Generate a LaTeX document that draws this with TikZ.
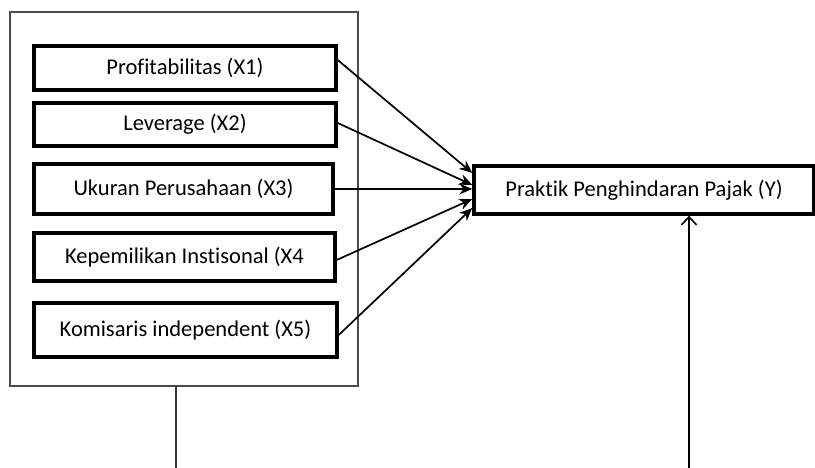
\documentclass[tikz,border=0pt]{standalone}
\usepackage{fontspec}
\setmainfont{Carlito}[Ligatures=NoCommon]
\usetikzlibrary{arrows.meta,calc}
\begin{document}
\begin{tikzpicture}[x=1pt,y=-1pt,
  varbox/.style={draw=black,line width=3.4pt,fill=white,inner sep=0pt,font=\fontsize{22.5}{26}\selectfont},
  link/.style={draw=black,line width=1.7pt,-{Stealth[length=13pt,width=11pt]}},
  frame/.style={draw=black!70,line width=1.1pt}]
\useasboundingbox (0,0) rectangle (815,468);
\node[frame,minimum width=348pt,minimum height=374pt,inner sep=0pt] (outer) at (184,199) {};
\node[varbox,minimum width=302pt,minimum height=44pt] (b1) at (185,68) {Profitabilitas (X1)};
\node[varbox,minimum width=302pt,minimum height=43pt] (b2) at (185,124.5) {Leverage (X2)};
\node[varbox,minimum width=299pt,minimum height=50pt] (b3) at (183.5,189) {\raisebox{3pt}{Ukuran Perusahaan (X3)}};
\node[varbox,minimum width=301pt,minimum height=48pt] (b4) at (184.5,257) {\raisebox{2pt}{Kepemilikan Instisonal (X4}};
\node[varbox,minimum width=303pt,minimum height=54pt] (b5) at (185.5,330) {\raisebox{3pt}{Komisaris independent (X5)}};
\node[varbox,minimum width=340pt,minimum height=48pt] (y) at (644,190) {\raisebox{2pt}{Praktik Penghindaran Pajak (Y)}};
\coordinate (lb) at (176,468);
\coordinate (rb) at (689,468);
\draw[link] ([yshift=8pt]b1.east) -- ([yshift=17pt]y.west);
\draw[link] ([yshift=1.5pt]b2.east) -- ([yshift=5pt]y.west);
\draw[link] (b3.east) -- ([yshift=1pt]y.west);
\draw[link] ([yshift=-3pt]b4.east) -- ([yshift=-9pt]y.west);
\draw[link] ([yshift=-5pt]b5.east) -- ([yshift=-18pt]y.west);
\draw[frame,line width=1.2pt,draw=black!80] (outer.south -| lb) -- (lb);
\draw[draw=black,line width=1.6pt,-{Straight Barb[length=8pt,width=15pt]}] (rb) -- (y.south -| rb);
\end{tikzpicture}
\end{document}
